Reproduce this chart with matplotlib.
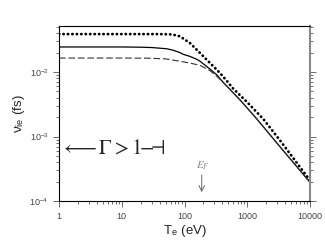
import numpy as np
import matplotlib
matplotlib.use("Agg")
import matplotlib.pyplot as plt
from matplotlib import ticker

plt.rcParams["font.family"] = ["Liberation Sans", "DejaVu Sans"]
plt.rcParams["mathtext.fontset"] = "stix"

# ── Dados ──────────────────────────────────────────────────────
T_dot  = [1, 10, 40, 60, 75, 85, 102, 122, 150, 177, 255, 300, 368, 450,
          600, 980, 1800, 3300, 5500, 10000]
nu_dot = [0.0388, 0.0388, 0.0388, 0.0384, 0.0370, 0.0357, 0.0317, 0.0282,
          0.0231, 0.0197, 0.0138, 0.01178, 0.00964, 0.0077, 0.0055, 0.00347,
          0.00187, 0.00088, 0.000453, 0.000208]

T_sol  = [1, 10, 20, 30, 52, 66, 85, 96, 122, 156, 177, 255, 325, 415,
          600, 815, 1415, 3300, 10000]
nu_sol = [0.0245, 0.0245, 0.0243, 0.0240, 0.0230, 0.0218, 0.0200, 0.0188,
          0.0175, 0.0158, 0.0147, 0.0111, 0.0091, 0.0069, 0.00474, 0.00347,
          0.00188, 0.00070, 0.000195]

T_dash  = [1, 10, 28, 50, 85, 122, 177, 255, 326, 415, 600, 815, 1415, 3300, 10000]
nu_dash = [0.0165, 0.0165, 0.0164, 0.0160, 0.0147, 0.0138, 0.0127, 0.0105,
           0.0086, 0.0069, 0.00474, 0.00347, 0.00188, 0.00070, 0.000195]

E_F = 188  # eV

# ── Figura ────────────────────────────────────────────────────
fig = plt.figure(figsize=(3.25, 2.44), dpi=100)
ax = fig.add_axes([0.1815, 0.176, 0.7725, 0.717])

ax.plot(T_dot, nu_dot, color="black", linewidth=2.0,
        linestyle=(0, (0.1, 1.5)), dash_capstyle="round")
ax.plot(T_sol, nu_sol, color="black", linewidth=0.9)
ax.plot(T_dash, nu_dash, color="#333333", linewidth=0.8, linestyle=(0, (6, 2.5)))

ax.set_xscale("log")
ax.set_yscale("log")
ax.set_xlim(1, 10000)
ax.set_ylim(1e-4, 0.0516)

ax.xaxis.set_major_formatter(ticker.FuncFormatter(lambda v, p: f"{v:g}"))
ax.tick_params(which="both", direction="out", colors="#555555", labelsize=6.5,
               width=0.6, right=True, top=False)
ax.tick_params(which="major", length=4)
ax.tick_params(which="minor", length=2.5)
ax.tick_params(axis="y", labelcolor="#444444")
ax.tick_params(axis="x", labelcolor="#444444", pad=4)

for s in ["left", "bottom", "top"]:
    ax.spines[s].set_linewidth(0.8)
    ax.spines[s].set_color("black")
ax.spines["right"].set_linewidth(1.5)
ax.spines["right"].set_color("#888888")

ax.set_xlabel(r"T$_\mathregular{e}$ (eV)", fontsize=9.5, color="#222222", labelpad=1)
ax.set_ylabel(r"ν$_\mathregular{ie}$ (fs)", fontsize=9.5, color="#222222", labelpad=2)

# ── Anotações ─────────────────────────────────────────────────
ax.text(0.005, 0.297, r"$\longleftarrow\Gamma > 1\!\!-\!\!\!\!\dashv$", transform=ax.transAxes,
        fontsize=15, va="center", ha="left", color="#222222")

ax.annotate("", xy=(E_F, 1.24e-4), xytext=(E_F, 2.8e-4),
            arrowprops=dict(arrowstyle="->", color="#666666", lw=0.7))
ax.text(E_F * 1.06, 3.5e-4, r"$E_F$", fontsize=8, color="#888888", ha="center", va="center")

plt.savefig("out.png", dpi=100)
